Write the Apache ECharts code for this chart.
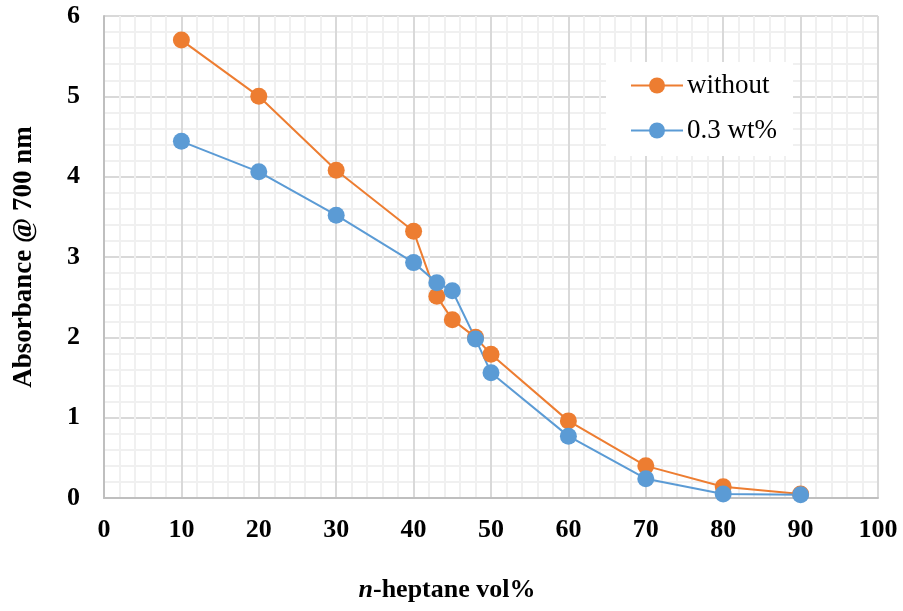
<!DOCTYPE html>
<html>
<head>
<meta charset="utf-8">
<script src="https://cdn.jsdelivr.net/npm/echarts@6/dist/echarts.min.js"></script>
<style>html,body{margin:0;padding:0;background:#fff;}#c{width:903px;height:611px;}</style>
</head>
<body>
<div id="c"></div>
<script>
const xValues = [10, 20, 30, 40, 43, 45, 48, 50, 60, 70, 80, 90];
const withoutValues = [5.70, 5.00, 4.08, 3.32, 2.51, 2.22, 2.00, 1.79, 0.96, 0.40, 0.14, 0.05];
const wt03Values = [4.44, 4.06, 3.52, 2.93, 2.68, 2.58, 1.98, 1.56, 0.77, 0.24, 0.05, 0.04];
const seriesNames = ['without', '0.3 wt%'];

const font = '"Liberation Serif", "Times New Roman", serif';
const chart = echarts.init(document.getElementById('c'), null, {renderer: 'canvas'});
const pairs = arr => xValues.map((x, i) => [x, arr[i]]);
chart.setOption({
  animation: false,
  backgroundColor: '#fff',
  grid: {left: 104, right: 25, top: 16, bottom: 113},
  legend: {
    orient: 'vertical',
    left: 606, top: 62,
    padding: [10, 16, 12, 24],
    backgroundColor: '#fff',
    itemWidth: 52, itemHeight: 20, itemGap: 18,
    textStyle: {fontFamily: font, fontSize: 27, color: '#000', padding: [0, 0, 0, -1]},
    data: seriesNames
  },
  xAxis: {
    type: 'value', min: 0, max: 100, interval: 10,
    axisLine: {show: true, lineStyle: {color: '#bfbfbf', width: 2}},
    axisTick: {show: false},
    axisLabel: {fontFamily: font, fontSize: 26, fontWeight: 'bold', color: '#000', margin: 19},
    splitLine: {show: true, lineStyle: {color: '#d9d9d9', width: 2}},
    minorTick: {show: false, splitNumber: 5},
    minorSplitLine: {show: true, lineStyle: {color: '#f0f0f0', width: 2}},
    name: '{i|n}{b|-heptane vol%}',
    nameLocation: 'middle', nameGap: 79,
    nameTextStyle: {
      padding: [0, 88, 0, 0],
      rich: {
        i: {fontFamily: font, fontSize: 26, fontWeight: 'bold', fontStyle: 'italic', color: '#000'},
        b: {fontFamily: font, fontSize: 26, fontWeight: 'bold', color: '#000'}
      }
    }
  },
  yAxis: {
    type: 'value', min: 0, max: 6, interval: 1,
    axisLine: {show: true, lineStyle: {color: '#bfbfbf', width: 2}},
    axisTick: {show: false},
    axisLabel: {fontFamily: font, fontSize: 26, fontWeight: 'bold', color: '#000', margin: 24},
    splitLine: {show: true, lineStyle: {color: '#d9d9d9', width: 2}},
    minorTick: {show: false, splitNumber: 5},
    minorSplitLine: {show: true, lineStyle: {color: '#f0f0f0', width: 2}},
    name: 'Absorbance @ 700 nm',
    nameLocation: 'middle', nameGap: 66,
    nameTextStyle: {fontFamily: font, fontSize: 27, fontWeight: 'bold', color: '#000'}
  },
  series: [
    {
      name: seriesNames[0], type: 'line', data: pairs(withoutValues),
      symbol: 'circle', symbolSize: 17,
      lineStyle: {color: '#ED7D31', width: 2},
      itemStyle: {color: '#ED7D31'}
    },
    {
      name: seriesNames[1], type: 'line', data: pairs(wt03Values),
      symbol: 'circle', symbolSize: 17,
      lineStyle: {color: '#5B9BD5', width: 2},
      itemStyle: {color: '#5B9BD5'}
    }
  ]
});
</script>
</body>
</html>
